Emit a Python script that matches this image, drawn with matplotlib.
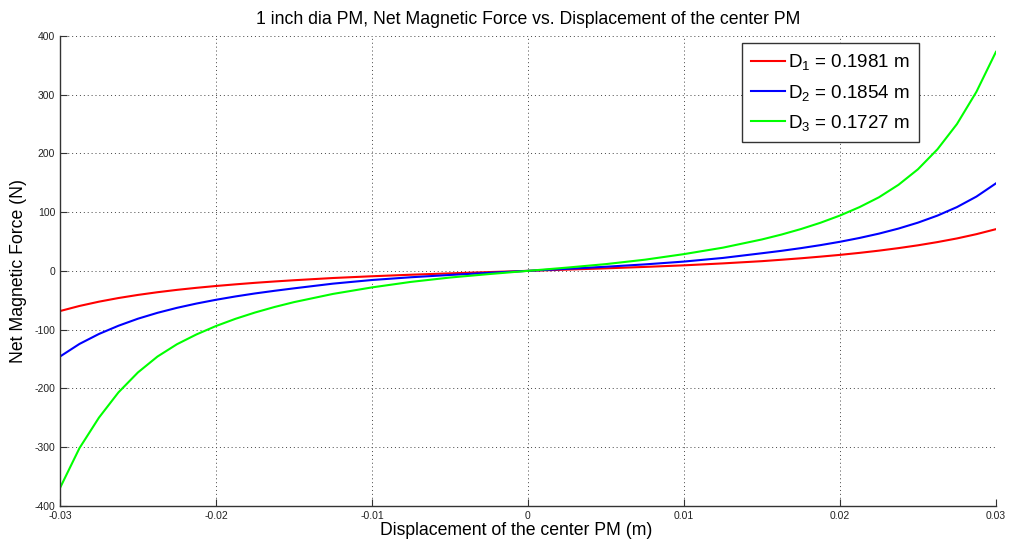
import matplotlib
matplotlib.use("Agg")
import matplotlib.pyplot as plt

plt.rcParams["font.family"] = ["Liberation Sans", "DejaVu Sans"]
plt.rcParams["mathtext.fontset"] = "custom"
plt.rcParams["mathtext.rm"] = "Liberation Sans"
plt.rcParams["mathtext.default"] = "rm"
plt.rcParams["axes.unicode_minus"] = False

# displacement of the center PM (m); denser where the curves bend
disp = [-0.03, -0.02875, -0.0275, -0.02625, -0.025, -0.02375, -0.0225,
        -0.02125, -0.02, -0.01875, -0.0175, -0.01625, -0.015,
        -0.0125, -0.01, -0.0075, -0.005, -0.0025, 0.0,
        0.0025, 0.005, 0.0075, 0.01, 0.0125,
        0.015, 0.01625, 0.0175, 0.01875, 0.02, 0.02125, 0.0225,
        0.02375, 0.025, 0.02625, 0.0275, 0.02875, 0.03]

# net magnetic force (N)
force_d1 = [-68.5, -59.8, -52.5, -46.3, -41, -36.4, -32.4,
            -28.9, -25.8, -23, -20.4, -18.1, -16,
            -12.2, -9.2, -6.6, -4.3, -2.1, 0,
            2.1, 4.3, 6.7, 9.4, 12.7,
            16.5, 18.9, 21.4, 24.2, 27.2, 30.6, 34.4,
            38.7, 43.5, 49, 55.2, 62.5, 71]
force_d2 = [-146, -124.5, -107.5, -93.5, -81.5, -71.5, -63,
            -55.7, -49.3, -43.6, -38.5, -34, -29.8,
            -21.8, -15.6, -10.9, -7, -3.4, 0,
            3.4, 7, 11, 15.8, 22,
            30, 34.1, 38.7, 43.8, 49.5, 56, 63.4,
            72, 82.1, 94.1, 108.6, 126.5, 149]
force_d3 = [-370, -302, -250, -207, -173, -146, -125,
            -108.3, -94, -81.7, -71, -61.6, -53.3,
            -39.3, -28.2, -18.8, -11.4, -5.5, 0,
            5.5, 11.5, 19, 28.5, 39.5,
            53.5, 61.8, 71.2, 81.9, 94.2, 108.5, 125.3,
            146.5, 173, 207, 250, 305, 373]

labels = [r"D$_1$ = 0.1981 m", r"D$_2$ = 0.1854 m", r"D$_3$ = 0.1727 m"]
colors = ["#ff0000", "#0000ff", "#00ff00"]

xticks = [-0.03, -0.02, -0.01, 0, 0.01, 0.02, 0.03]
xticklabels = ["-0.03", "-0.02", "-0.01", "0", "0.01", "0.02", "0.03"]
yticks = [-400, -300, -200, -100, 0, 100, 200, 300, 400]
yticklabels = ["-400", "-300", "-200", "-100", "0", "100", "200", "300", "400"]

fig = plt.figure(figsize=(10.11, 5.48), dpi=100)
ax = fig.add_axes([0.0593, 0.0772, 0.9258, 0.8571])

for f, lab, c in zip([force_d1, force_d2, force_d3], labels, colors):
    ax.plot(disp, f, color=c, lw=1.5, label=lab)

ax.set_xlim(-0.03, 0.03)
ax.set_ylim(-400, 400)
ax.set_xticks(xticks)
ax.set_xticklabels(xticklabels)
ax.set_yticks(yticks)
ax.set_yticklabels(yticklabels)
ax.tick_params(direction="in", length=5, labelsize=7.5, colors="#333333",
               labelcolor="#222222")
ax.grid(True, linestyle=(0, (1, 3)), color="#444444", lw=0.7)

for s in ("top", "right"):
    ax.spines[s].set_visible(False)
for s in ("left", "bottom"):
    ax.spines[s].set_color("#333333")
    ax.spines[s].set_linewidth(1.0)

ax.set_title("1 inch dia PM, Net Magnetic Force vs. Displacement of the center PM",
             fontsize=12.7, pad=9)
ax.set_xlabel("Displacement of the center PM (m)", fontsize=12.7, labelpad=1)
ax.xaxis.set_label_coords(0.487, -0.035)
ax.set_ylabel("Net Magnetic Force (N)", fontsize=12.7, labelpad=5)

leg = ax.legend(loc="upper right", bbox_to_anchor=(0.918, 0.985),
                borderaxespad=0, fontsize=13.5, fancybox=False,
                framealpha=1, edgecolor="#333333", handlelength=1.8,
                handletextpad=0.15, labelspacing=0.55, borderpad=0.5)
leg.get_frame().set_linewidth(1.0)

fig.savefig("out.png", dpi=100, facecolor="white")
